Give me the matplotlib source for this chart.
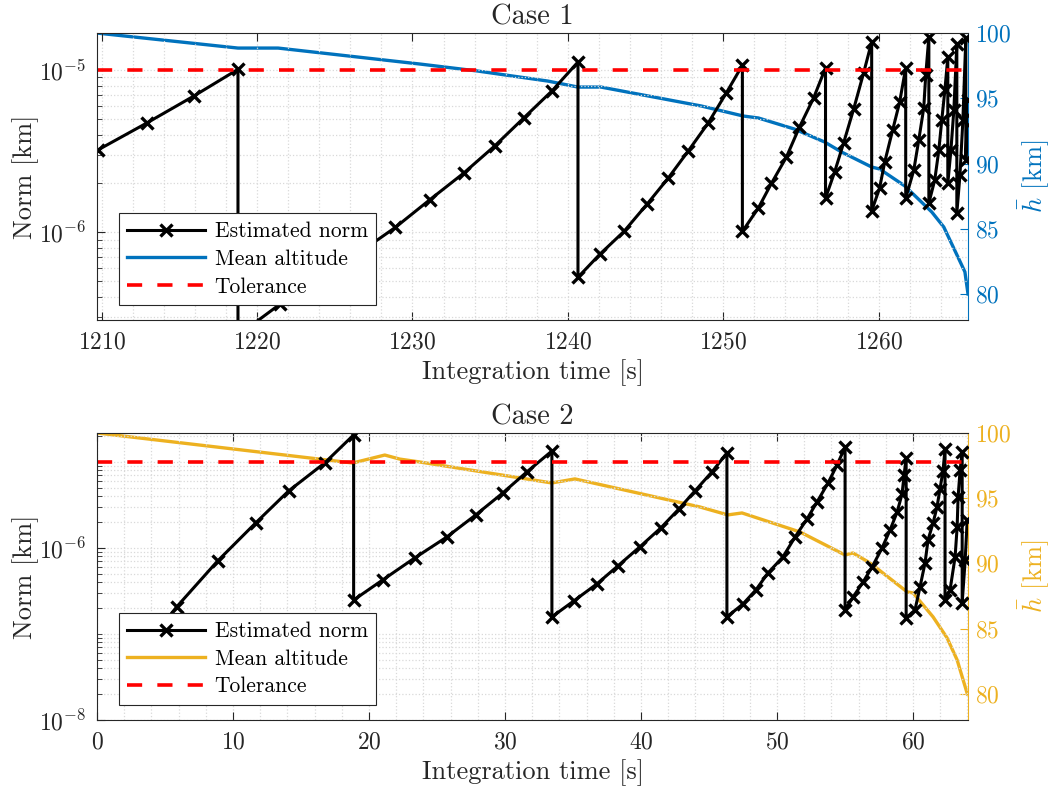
import numpy as np
import matplotlib.pyplot as plt
from matplotlib.ticker import MultipleLocator, LogLocator, NullFormatter, FixedLocator
from matplotlib.lines import Line2D

# -------------------------------------------------
# Data
# -------------------------------------------------
TOL = 1e-5

# Case 1: estimated norm (sawtooth, one row per restart)
t1_norm = [1209.75, 1212.90, 1215.94, 1218.77,
           1218.77, 1221.48, 1224.06, 1226.52, 1228.90, 1231.10, 1233.29, 1235.29, 1237.16, 1238.97, 1240.65,
           1240.65, 1242.06, 1243.61, 1245.10, 1246.45, 1247.74, 1249.03, 1250.19, 1251.23,
           1251.23, 1252.26, 1253.10, 1254.06, 1254.90, 1255.81, 1256.58,
           1256.58, 1257.16, 1257.74, 1258.39, 1259.03, 1259.55,
           1259.55, 1260.06, 1260.39, 1260.90, 1261.35, 1261.74,
           1261.74, 1262.26, 1262.58, 1262.90, 1263.03, 1263.23,
           1263.23, 1263.61, 1263.87, 1264.06, 1264.26, 1264.45,
           1264.45, 1264.65, 1264.84, 1265.03,
           1265.03, 1265.23, 1265.42, 1265.61,
           1265.61, 1265.74]
norm1 = [3.21e-6, 4.71e-6, 6.92e-6, 1.01e-5,
         2.31e-7, 3.60e-7, 5.06e-7, 7.41e-7, 1.07e-6, 1.58e-6, 2.31e-6, 3.40e-6, 5.06e-6, 7.42e-6, 1.12e-5,
         5.27e-7, 7.31e-7, 1.01e-6, 1.49e-6, 2.15e-6, 3.16e-6, 4.71e-6, 7.21e-6, 1.07e-5,
         1.01e-6, 1.41e-6, 2.00e-6, 2.90e-6, 4.44e-6, 6.71e-6, 1.03e-5,
         1.62e-6, 2.34e-6, 3.54e-6, 5.74e-6, 9.58e-6, 1.49e-5,
         1.35e-6, 1.87e-6, 2.71e-6, 4.26e-6, 6.34e-6, 1.03e-5,
         1.62e-6, 2.41e-6, 3.70e-6, 5.82e-6, 9.31e-6, 1.60e-5,
         1.51e-6, 2.10e-6, 3.20e-6, 4.90e-6, 7.50e-6, 1.20e-5,
         2.00e-6, 3.20e-6, 5.70e-6, 1.44e-5,
         1.31e-6, 2.24e-6, 4.90e-6, 1.58e-5,
         2.78e-6, 6.50e-6]

# Case 1: mean altitude
t1_alt = [1209.70, 1218.77, 1221.35, 1230.52, 1234.19, 1238.71, 1240.65, 1242.13, 1248.58, 1251.29,
          1252.26, 1254.58, 1256.52, 1257.61, 1259.55, 1260.06, 1261.68, 1263.42, 1264.19, 1265.16,
          1265.55, 1265.75]
alt1 = [100.0, 98.85, 98.85, 97.62, 97.09, 96.32, 95.86, 95.86, 94.41, 93.64,
        93.49, 92.64, 91.65, 90.88, 89.73, 89.58, 88.28, 86.28, 85.13, 82.68,
        81.69, 80.0]

# Case 2: estimated norm
t2_norm = [2.54, 5.85, 8.87, 11.66, 14.09, 16.74, 18.87,
           18.87, 21.01, 23.36, 25.72, 27.85, 29.84, 31.61, 33.45,
           33.45, 35.06, 36.75, 38.30, 39.92, 41.46, 42.79, 43.97, 45.22, 46.32,
           46.32, 47.50, 48.45, 49.34, 50.44, 51.33, 52.21, 52.95, 53.76, 54.42, 55.01,
           55.01, 55.60, 56.34, 57.00, 57.73, 58.32, 58.84, 59.20, 59.35, 59.50,
           59.50, 60.15, 60.52, 60.89, 61.11, 61.48, 61.77, 61.99, 62.21, 62.36,
           62.36, 62.73, 63.10, 63.25, 63.32, 63.47, 63.62,
           63.62, 63.84, 63.99]
norm2 = [4.4e-8, 2.06e-7, 7.06e-7, 1.95e-6, 4.60e-6, 9.73e-6, 2.06e-5,
         2.48e-7, 4.25e-7, 7.65e-7, 1.34e-6, 2.42e-6, 4.36e-6, 7.66e-6, 1.34e-5,
         1.58e-7, 2.42e-7, 3.81e-7, 6.18e-7, 1.03e-6, 1.71e-6, 2.84e-6, 4.60e-6, 7.66e-6, 1.27e-5,
         1.58e-7, 2.23e-7, 3.25e-7, 5.12e-7, 7.86e-7, 1.34e-6, 2.17e-6, 3.43e-6, 5.70e-6, 9.23e-6, 1.49e-5,
         1.90e-7, 2.69e-7, 4.03e-7, 6.02e-7, 1.00e-6, 1.62e-6, 2.62e-6, 4.25e-6, 7.06e-6, 1.11e-5,
         1.53e-7, 1.90e-7, 3.52e-7, 6.70e-7, 1.24e-6, 1.95e-6, 3.00e-6, 4.85e-6, 7.85e-6, 1.42e-5,
         2.48e-7, 3.25e-7, 7.86e-7, 1.75e-6, 3.92e-6, 8.07e-6, 1.31e-5,
         2.29e-7, 7.20e-7, 2.12e-6]

# Case 2: mean altitude
t2_alt = [0.0, 18.80, 21.16, 22.26, 23.72, 33.44, 35.14, 44.33, 46.39, 47.43,
          51.70, 55.00, 55.59, 56.84, 59.57, 60.01, 61.48, 62.51, 63.25, 63.69, 64.0]
alt2 = [100.0, 97.70, 98.31, 98.00, 97.78, 96.17, 96.48, 94.33, 93.72, 93.87,
        92.41, 90.65, 90.80, 90.04, 87.82, 87.74, 85.90, 84.29, 82.60, 81.07, 80.0]

# -------------------------------------------------
# Style
# -------------------------------------------------
plt.rcParams.update({
    "font.family": "serif",
    "font.serif": ["cmr10"],
    "mathtext.fontset": "cm",
    "axes.formatter.use_mathtext": True,
    "axes.unicode_minus": True,
})

DARK = "#262626"
BLUE = "#0072BD"
YELLOW = "#EDB120"
GRID = "#d9d9d9"
TICK_FS = 17
LABEL_FS = 19
TITLE_FS = 20.5
LEG_FS = 15.5

fig = plt.figure(figsize=(10.49, 7.91), dpi=100)


def draw_case(rect, t_norm, norm, t_alt, alt, alt_color, xlim, ylim, xmajor, ymajor, title):
    ax = fig.add_axes(rect)
    ax2 = ax.twinx()
    # keep norm curve and legend above the altitude curve
    ax.set_zorder(ax2.get_zorder() + 1)
    ax.patch.set_visible(False)

    ax2.plot(t_alt, alt, color=alt_color, lw=2.4)
    ax.plot(t_norm, norm, color="black", lw=2.2, marker="x", ms=9, mew=2.4)
    ax.plot(xlim, [TOL, TOL], color="red", lw=2.6, ls=(0, (4.2, 4.2)))

    ax.set_yscale("log")
    ax.set_xlim(xlim)
    ax.set_ylim(ylim)
    ax2.set_ylim(78, 100)
    ax.ticklabel_format(axis="x", useOffset=False, style="plain")

    ax.xaxis.set_major_locator(FixedLocator(xmajor))
    ax.xaxis.set_minor_locator(MultipleLocator(2))
    ax.yaxis.set_major_locator(FixedLocator(ymajor))
    ax.yaxis.set_minor_locator(LogLocator(base=10, subs=np.arange(1, 10), numticks=50))
    ax.yaxis.set_minor_formatter(NullFormatter())
    ax2.yaxis.set_major_locator(FixedLocator([80, 85, 90, 95, 100]))

    ax.grid(True, which="both", ls=":", color=GRID, lw=0.9)
    ax.set_axisbelow(True)

    ax.tick_params(axis="both", which="major", direction="in", length=6, width=0.8,
                   labelsize=TICK_FS, colors=DARK, top=True, right=False)
    ax.tick_params(axis="x", which="major", pad=8)
    ax.tick_params(axis="y", which="major", pad=8)
    ax.tick_params(axis="y", which="minor", direction="in", length=3.5, width=0.6, color=DARK)
    ax.tick_params(axis="x", which="minor", length=0, top=True)
    ax2.tick_params(axis="y", direction="in", length=6, width=0.8, labelsize=TICK_FS,
                    colors=alt_color, pad=5)

    for side in ["left", "top", "bottom"]:
        ax.spines[side].set_color(DARK)
        ax.spines[side].set_linewidth(0.8)
        ax2.spines[side].set_visible(False)
    ax.spines["right"].set_visible(False)
    ax2.spines["right"].set_color(alt_color)
    ax2.spines["right"].set_linewidth(0.8)

    ax.set_xlabel("Integration time [s]", fontsize=LABEL_FS, color=DARK, labelpad=4)
    ax.set_ylabel("Norm [km]", fontsize=LABEL_FS, color=DARK, labelpad=0)
    ax2.set_ylabel(r"$\bar{h}$ [km]", fontsize=LABEL_FS, color=alt_color, labelpad=3)
    ax.set_title(title, fontsize=TITLE_FS, color=DARK, pad=6)

    handles = [
        Line2D([], [], color="black", lw=2.2, marker="x", ms=9, mew=2.4),
        Line2D([], [], color=alt_color, lw=2.4),
        Line2D([], [], color="red", lw=2.6, ls=(0, (4.2, 4.2))),
    ]
    leg = ax.legend(handles, ["Estimated norm", "Mean altitude", "Tolerance"],
                    loc="lower left", bbox_to_anchor=(0.025, 0.052), fontsize=LEG_FS,
                    frameon=True, fancybox=False, framealpha=1, edgecolor=DARK,
                    handlelength=3.6, handletextpad=0.45, labelspacing=0.38,
                    borderpad=0.4, borderaxespad=0, numpoints=1)
    leg.get_frame().set_linewidth(0.8)
    return ax, ax2


# -------------------------------------------------
# Case 1
# -------------------------------------------------
draw_case([0.0925, 0.5954, 0.8303, 0.3628], t1_norm, norm1, t1_alt, alt1, BLUE,
          (1209.7, 1265.75), (2.87e-7, 1.69e-5),
          [1210, 1220, 1230, 1240, 1250, 1260], [1e-7, 1e-6, 1e-5, 1e-4], "Case 1")

# -------------------------------------------------
# Case 2
# -------------------------------------------------
draw_case([0.0925, 0.0898, 0.8303, 0.3628], t2_norm, norm2, t2_alt, alt2, YELLOW,
          (0, 64.05), (1e-8, 2.17e-5),
          [0, 10, 20, 30, 40, 50, 60], [1e-8, 1e-6, 1e-4], "Case 2")

fig.savefig("out.png", dpi=100)
